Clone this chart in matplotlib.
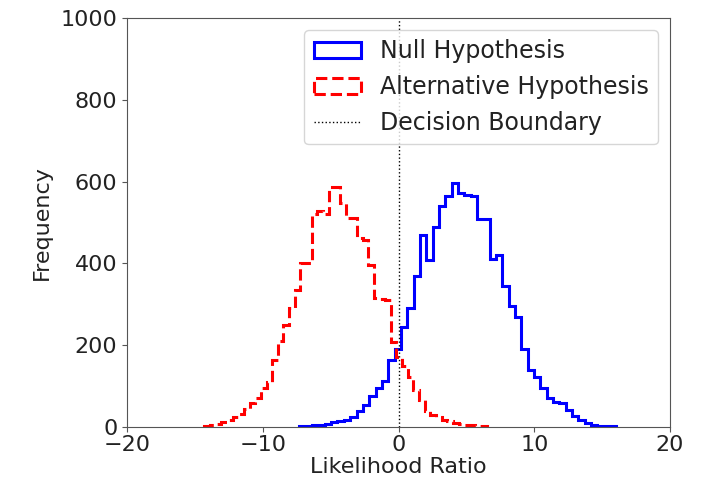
import numpy as np
import matplotlib
matplotlib.use("Agg")
import matplotlib.pyplot as plt

# Histogram counts
null_counts = [2, 3, 5, 6, 8, 12, 14, 18, 25, 40,
               55, 75, 95, 112, 165, 190, 245, 290, 370, 470,
               408, 490, 540, 565, 596, 572, 568, 565, 508, 508,
               410, 420, 345, 295, 268, 190, 140, 122, 96, 72,
               60, 58, 42, 27, 18, 10, 6, 3, 2, 2]
null_range = (-7.3, 16.05)

alt_counts = [3, 4, 8, 12, 18, 24, 33, 45, 58, 72,
              95, 110, 165, 210, 250, 290, 335, 400, 402, 520,
              528, 522, 587, 587, 548, 512, 510, 462, 458, 396,
              316, 312, 310, 208, 172, 150, 122, 90, 66, 40,
              30, 24, 18, 14, 10, 8, 6, 4, 3, 2]
alt_range = (-14.3, 6.5)

decision_boundary = 0.0

null_edges = np.linspace(null_range[0], null_range[1], len(null_counts) + 1)
alt_edges = np.linspace(alt_range[0], alt_range[1], len(alt_counts) + 1)

fs = 16
fig = plt.figure(figsize=(7.06, 4.88), dpi=100)
ax = fig.add_axes([0.18, 0.125, 0.769, 0.838])

ax.hist(null_edges[:-1], bins=null_edges, weights=null_counts, histtype='step',
        color='blue', linewidth=2.2, label='Null Hypothesis')
ax.hist(alt_edges[:-1], bins=alt_edges, weights=alt_counts, histtype='step',
        color='red', linewidth=2.2, linestyle='--', label='Alternative Hypothesis')
ax.axvline(decision_boundary, color='black', linestyle=':', linewidth=1,
           label='Decision Boundary')

ax.set_xlim(-20, 20)
ax.set_ylim(0, 1000)
ax.set_xticks([-20, -10, 0, 10, 20])
ax.set_yticks([0, 200, 400, 600, 800, 1000])
ax.set_xlabel('Likelihood Ratio', fontsize=fs, color='#222222', labelpad=2)
ax.set_ylabel('Frequency', fontsize=fs, color='#222222', labelpad=6)
ax.tick_params(labelsize=fs, colors='#555555', labelcolor='#222222')
ax.tick_params(axis='x', pad=2)
for s in ax.spines.values():
    s.set_color('#555555')
leg = ax.legend(loc='upper right', fontsize=17)
for t in leg.get_texts():
    t.set_color('#222222')

fig.savefig('out.png', dpi=100)
